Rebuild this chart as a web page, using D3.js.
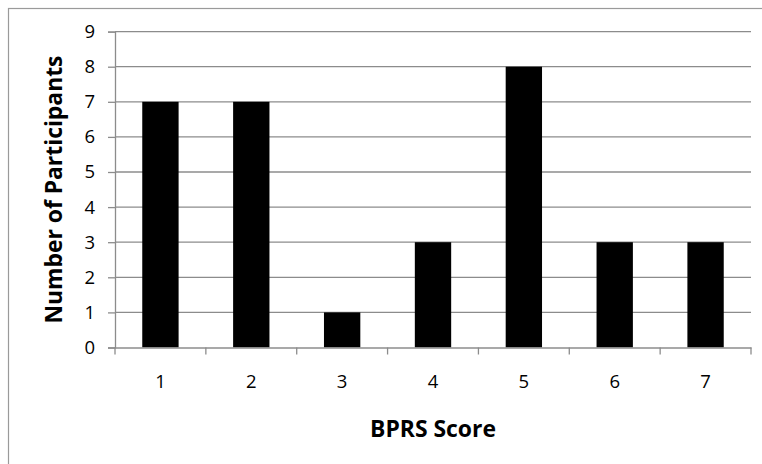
<!DOCTYPE html>
<html>
<head>
<meta charset="utf-8">
<script src="https://cdn.jsdelivr.net/npm/d3@7"></script>
<style>
  html, body { margin: 0; padding: 0; background: #fff; }
  svg { display: block; }
  text { font-family: "Open Sans", "Liberation Sans", sans-serif; fill: #000; }
</style>
</head>
<body>
<svg id="chart" width="762" height="464"></svg>
<script>
// BPRS score distribution
const categories = ["1", "2", "3", "4", "5", "6", "7"];
const participants = [7, 7, 1, 3, 8, 3, 3];
const yTicks = [0, 1, 2, 3, 4, 5, 6, 7, 8, 9];

const svg = d3.select("#chart");
const W = 762, H = 464;
const plot = { left: 115, right: 751, top: 31.6, bottom: 347.5 };
const FONT = "'Open Sans', 'Liberation Sans', sans-serif";
const AXIS_GREY = "#8c8c8c";

// chart frame
svg.append("rect")
  .attr("x", 8.5).attr("y", 8.5)
  .attr("width", W + 10).attr("height", H + 10)
  .attr("fill", "#fff").attr("stroke", "#9a9a9a").attr("stroke-width", 1.2);

const x = d3.scaleBand().domain(categories).range([plot.left, plot.right]).paddingInner(0).paddingOuter(0);
const y = d3.scaleLinear().domain([0, 9]).range([plot.bottom, plot.top]);

// horizontal gridlines
svg.append("g")
  .selectAll("line")
  .data(yTicks.filter(d => d > 0))
  .join("line")
  .attr("x1", plot.left).attr("x2", plot.right)
  .attr("y1", d => y(d)).attr("y2", d => y(d))
  .attr("stroke", AXIS_GREY).attr("stroke-width", 1.3);

// bars: width is 40% of the category band
const barW = x.bandwidth() * 0.4;
svg.append("g")
  .selectAll("rect")
  .data(categories.map((c, i) => ({ c, v: participants[i] })))
  .join("rect")
  .attr("x", d => x(d.c) + (x.bandwidth() - barW) / 2)
  .attr("width", barW)
  .attr("y", d => y(d.v))
  .attr("height", d => y(0) - y(d.v))
  .attr("fill", "#000");

// y axis
const yAxis = svg.append("g")
  .attr("transform", `translate(${plot.left},0)`)
  .call(d3.axisLeft(y).tickValues(yTicks).tickFormat(d3.format("d")).tickSize(7).tickPadding(13));
yAxis.select(".domain").attr("stroke", AXIS_GREY).attr("stroke-width", 1.3);
yAxis.selectAll(".tick line").attr("stroke", AXIS_GREY).attr("stroke-width", 1.3);
yAxis.selectAll(".tick text").attr("font-size", 18.5).attr("font-family", FONT).attr("fill", "#000");

// x axis: ticks sit on the category boundaries
const xAxis = svg.append("g")
  .attr("transform", `translate(0,${plot.bottom})`)
  .call(d3.axisBottom(x).tickSize(0).tickPadding(27));
xAxis.select(".domain").attr("stroke", AXIS_GREY).attr("stroke-width", 1.3);
xAxis.selectAll(".tick text").attr("font-size", 18.5).attr("font-family", FONT).attr("fill", "#000");
const bounds = categories.map(c => x(c)).concat([x(categories[categories.length - 1]) + x.bandwidth()]);
xAxis.append("g")
  .selectAll("line")
  .data(bounds)
  .join("line")
  .attr("x1", d => d).attr("x2", d => d)
  .attr("y1", 0).attr("y2", 7)
  .attr("stroke", AXIS_GREY).attr("stroke-width", 1.3);

// axis titles
svg.append("text")
  .attr("x", (plot.left + plot.right) / 2)
  .attr("y", 437)
  .attr("text-anchor", "middle")
  .attr("font-size", 23).attr("font-weight", "bold")
  .attr("textLength", 126).attr("lengthAdjust", "spacingAndGlyphs")
  .text("BPRS Score");

svg.append("text")
  .attr("transform", `translate(62,${(plot.top + plot.bottom) / 2}) rotate(-90)`)
  .attr("text-anchor", "middle")
  .attr("font-size", 23).attr("font-weight", "bold")
  .attr("textLength", 268).attr("lengthAdjust", "spacingAndGlyphs")
  .text("Number of Participants");
</script>
</body>
</html>
